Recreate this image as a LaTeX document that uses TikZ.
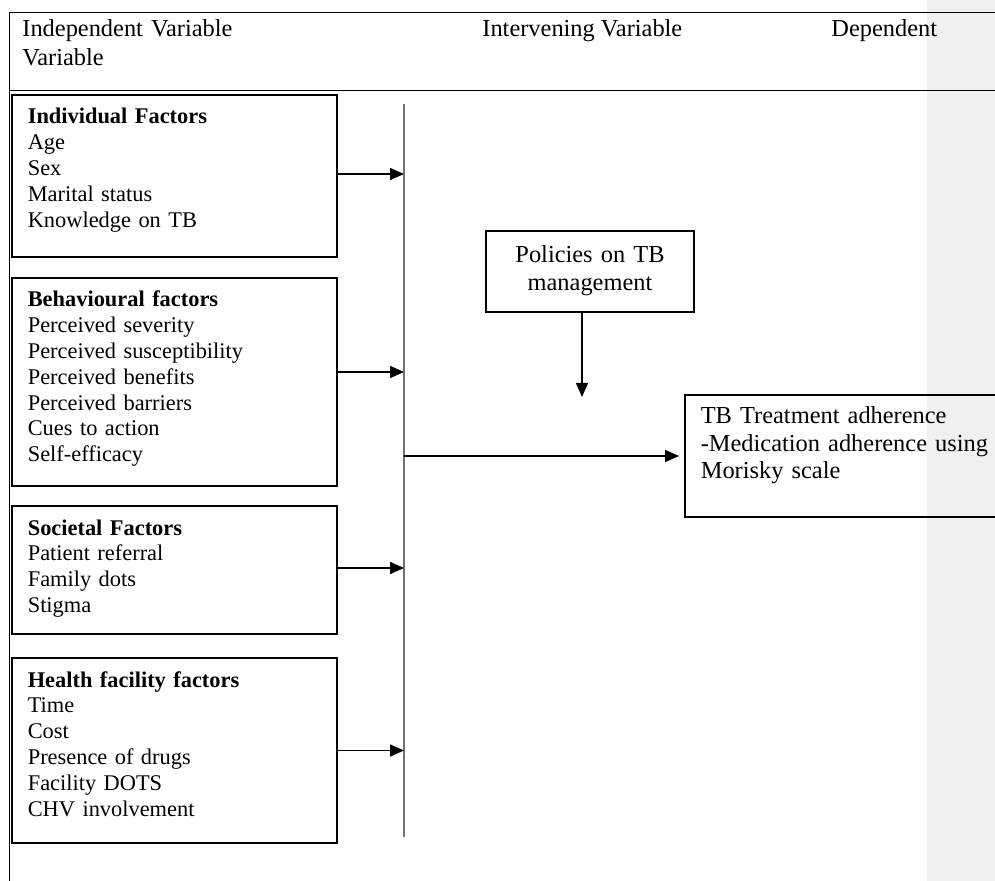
\documentclass[tikz,border=0pt]{standalone}
\usepackage{fontspec}
\setmainfont{Liberation Serif}
\usetikzlibrary{arrows.meta}

\begin{document}
\begin{tikzpicture}[x=0.5pt,y=-0.5pt]

  \useasboundingbox (0,0) rectangle (995,881);
  \clip (0,0) rectangle (995,881);

  % node styles
  \tikzstyle{Box}=[
  anchor=base west,
  draw,
  line width=0.8pt,
  align=left,
  text width=146.5pt,
  inner xsep=8pt,
  inner ysep=0pt,
  text height=14.5pt,
  font=\fontsize{11.2}{12.9}\selectfont]

  \tikzstyle{Head}=[anchor=base west,inner sep=0pt,align=left,
  font=\fontsize{12.2}{14.5}\selectfont]

  \tikzstyle{Arr}=[line width=0.75pt,-{Triangle[length=7pt,width=6pt]}]

  % table frame and grey margin
  \fill[black!6] (927,0) rectangle (995,881);
  \draw[line width=0.5pt] (9,881) -- (9,13) -- (995,13);
  \draw[line width=0.5pt] (9,91) -- (995,91);

  % column heads
  \node[Head,text width=110pt] (Hind) at (22,37) {Independent Variable\\Variable};
  \node[Head] (Hint) at (482,37) {Intervening Variable};
  \node[Head] (Hdep) at (831,37) {Dependent};

  % independent variables
  \node[Box,text depth=66.5pt] (Ind) at (11,124)
    {\textbf{Individual Factors}\\Age\\Sex\\Marital status\\Knowledge on TB};
  \node[Box,text depth=89.5pt] (Beh) at (11,307)
    {\textbf{Behavioural factors}\\Perceived severity\\Perceived susceptibility\\
     Perceived benefits\\Perceived barriers\\Cues to action\\Self-efficacy};
  \node[Box,text depth=49.5pt] (Soc) at (11,535)
    {\textbf{Societal Factors}\\Patient referral\\Family dots\\Stigma};
  \node[Box,text depth=78pt] (Hea) at (11,687)
    {\textbf{Health facility factors}\\Time\\Cost\\Presence of drugs\\
     Facility DOTS\\CHV involvement};

  % collecting bar
  \coordinate (Vt) at (404,104);
  \coordinate (Vb) at (404,837);
  \draw[black!55,line width=0.6pt] (Vt) -- (Vb);

  \draw[Arr] ([yshift=1pt]Ind.east) -- ([yshift=1pt]Ind.east -| Vt);
  \draw[Arr] ([yshift=5pt]Beh.east) -- ([yshift=5pt]Beh.east -| Vt);
  \draw[Arr] ([yshift=1pt]Soc.east) -- ([yshift=1pt]Soc.east -| Vt);
  \draw[Arr] (Hea.east) -- (Hea.east -| Vt);

  % intervening and dependent variables
  \node[draw,line width=0.8pt,anchor=base,align=center,text width=104pt,
        inner sep=0pt,text height=16pt,text depth=24.5pt,
        font=\fontsize{12.2}{14}\selectfont] (Pol) at (590,263)
    {Policies on TB\\management};

  \node[Box,text width=200pt,text depth=46.5pt,
        font=\fontsize{12.2}{13.75}\selectfont] (TB) at (684,424)
    {TB Treatment adherence\\-Medication adherence using\\Morisky scale};

  \coordinate (Ptip) at (582,397);
  \draw[Arr] (Pol.south -| Ptip) -- (Ptip);
  \draw[Arr,shorten >=2.5pt] (TB.west -| Vt) -- (TB.west);

\end{tikzpicture}
\end{document}
